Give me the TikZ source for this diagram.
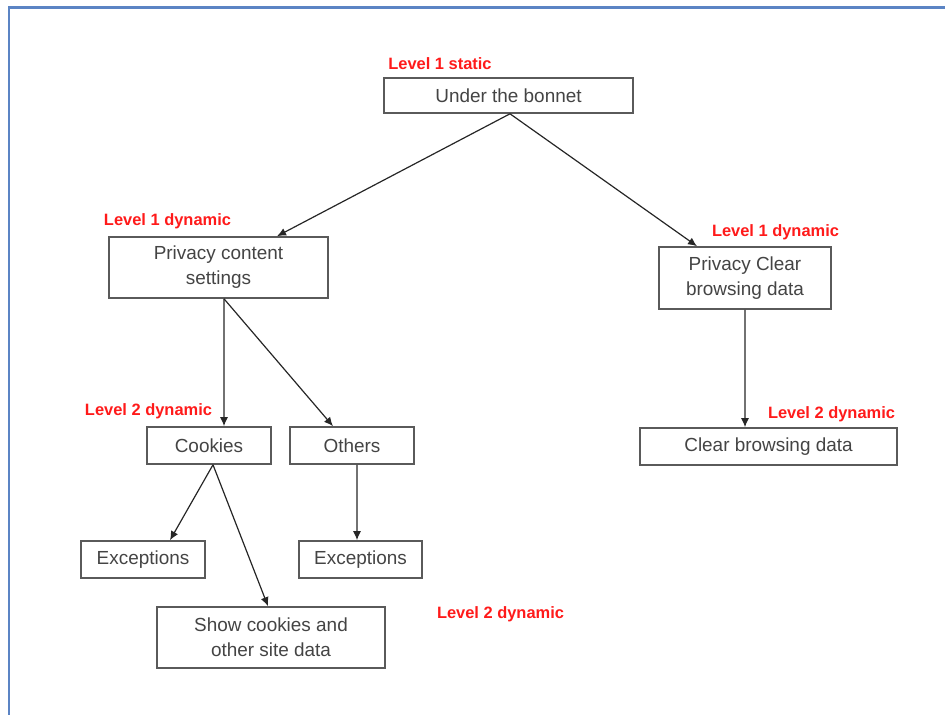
\documentclass[tikz,border=0pt]{standalone}
\usepackage{fontspec}
\setmainfont{Liberation Sans}
\usetikzlibrary{arrows.meta}
\definecolor{framebl}{HTML}{5B84C4}
\definecolor{boxline}{HTML}{5A5A5A}
\definecolor{boxtext}{HTML}{444444}
\definecolor{lvlred}{HTML}{FF1A1A}
\begin{document}
\begin{tikzpicture}[x=1bp,y=-1bp,
  box/.style={draw=boxline,line width=1.6bp,fill=white,rectangle,inner sep=0pt,
    text=boxtext,align=center,font=\fontsize{19}{25}\selectfont},
  lvl/.style={text=lvlred,inner sep=0pt,font=\fontsize{16.5}{18}\selectfont\bfseries},
  link/.style={draw=black!85,line width=1.2bp,-{Latex[length=9bp,width=8bp]}}]
  \useasboundingbox (0,0) rectangle (945,715);
  % frame around the figure
  \draw[framebl,line width=2.6bp] (9,715) -- (9,7.5) -- (945,7.5);

  % boxes
  \node[box,minimum width=249bp,minimum height=35bp] (ub) at (508.5,95.5) {Under the bonnet};
  \node[box,minimum width=219bp,minimum height=61bp] (pcs) at (218.5,267.5) {Privacy content\\settings};
  \node[box,minimum width=172bp,minimum height=62bp] (pcb) at (745,278) {Privacy Clear\\browsing data};
  \node[box,minimum width=257bp,minimum height=37bp] (cbd) at (768.5,446.5) {Clear browsing data};
  \node[box,minimum width=124bp,minimum height=37bp] (ck) at (209,445.5) {Cookies};
  \node[box,minimum width=124bp,minimum height=37bp] (oth) at (352,445.5) {Others};
  \node[box,minimum width=124bp,minimum height=37bp] (exa) at (143,559.5) {Exceptions};
  \node[box,minimum width=123bp,minimum height=37bp] (exb) at (360.5,559.5) {Exceptions};
  \node[box,minimum width=228bp,minimum height=61bp] (scd) at (271,637.5) {Show cookies and\\other site data};

  % level labels
  \node[lvl] (l1s) at (440,64) {Level 1 static};
  \node[lvl] (l1a) at (167.5,221) {Level 1 dynamic};
  \node[lvl] (l1b) at (775.5,232) {Level 1 dynamic};
  \node[lvl] (l2a) at (148.5,411) {Level 2 dynamic};
  \node[lvl] (l2b) at (831.5,414) {Level 2 dynamic};
  \node[lvl] (l2c) at (500.5,614) {Level 2 dynamic};

  % connectors
  \draw[link] ([xshift=1.5bp]ub.south) -- ([xshift=58.5bp]pcs.north);
  \draw[link] ([xshift=1.5bp]ub.south) -- ([xshift=-48bp]pcb.north);
  \draw[link] ([xshift=5.5bp]pcs.south) -- ([xshift=15bp]ck.north);
  \draw[link] ([xshift=5.5bp]pcs.south) -- ([xshift=-19bp]oth.north);
  \draw[link] (pcb.south) -- ([xshift=-23.5bp]cbd.north);
  \draw[link] ([xshift=4bp]ck.south) -- ([xshift=27bp]exa.north);
  \draw[link] ([xshift=4bp]ck.south) -- ([xshift=-3bp]scd.north);
  \draw[link] ([xshift=5bp]oth.south) -- ([xshift=-3.5bp]exb.north);
\end{tikzpicture}
\end{document}
